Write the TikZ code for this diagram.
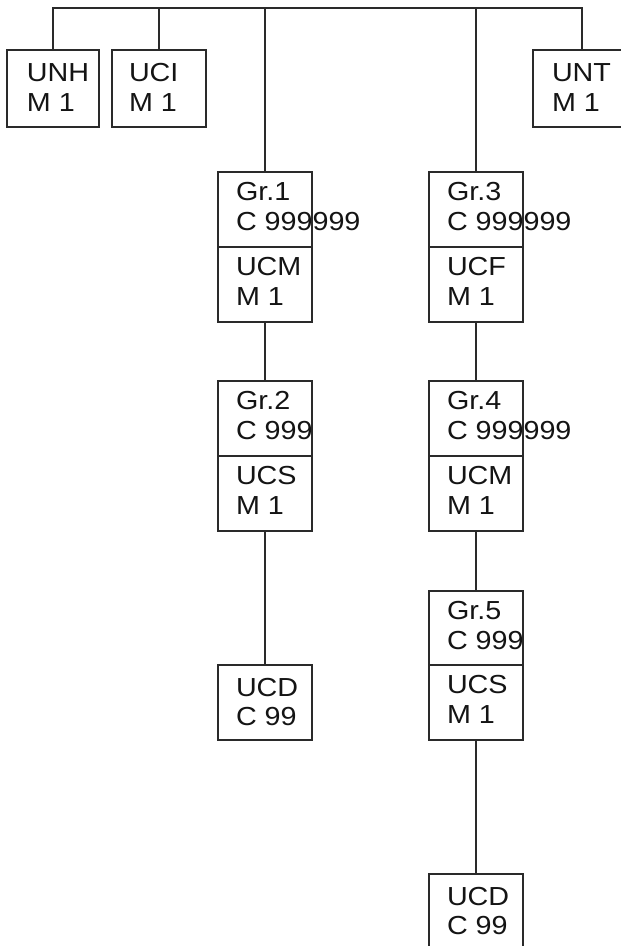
\documentclass[tikz,border=0pt]{standalone}
\usepackage{fontspec}
\setmainfont[FakeStretch=1.1]{Liberation Sans}
\definecolor{linec}{HTML}{2A2A2A}
\definecolor{txtc}{HTML}{141414}
\begin{document}
\begin{tikzpicture}[x=1pt,y=-1pt,
  cell/.style={draw=linec, line width=1.7pt, fill=white, minimum width=94pt, minimum height=75pt, inner sep=0pt, outer sep=0pt, anchor=north west},
  topcell/.style={cell, minimum height=77pt},
  lbl/.style={anchor=base west, inner sep=0pt, outer sep=0pt, text=txtc, font=\fontsize{26.1}{30}\selectfont},
  wire/.style={draw=linec, line width=1.8pt}]
\useasboundingbox (0,0) rectangle (621,946);
\fill[white] (0,0) rectangle (621,946);

% top row boxes
\node[topcell, minimum width=92pt] (unh) at (7,50) {};
\node[topcell] (uci) at (112,50) {};
\node[topcell] (unt) at (533,50) {};
\coordinate (tunt) at (582,8);

% left column
\node[cell] (g1a) at (218,172) {};
\node[cell] (g1b) at (218,247) {};
\node[cell] (g2a) at (218,381) {};
\node[cell] (g2b) at (218,456) {};
\node[cell] (ucd1) at (218,665) {};

% right column
\node[cell] (g3a) at (429,172) {};
\node[cell] (g3b) at (429,247) {};
\node[cell] (g4a) at (429,381) {};
\node[cell] (g4b) at (429,456) {};
\node[cell, minimum height=74pt] (g5a) at (429,591) {};
\node[cell] (g5b) at (429,665) {};
\node[cell] (ucd2) at (429,874) {};

% connectors
\draw[wire] (unh.north) |- (tunt) -- (tunt |- unt.north);
\draw[wire] (uci.north |- tunt) -- (uci.north);
\draw[wire] (g1a.north |- tunt) -- (g1a.north);
\draw[wire] (g3a.north |- tunt) -- (g3a.north);
\draw[wire] (g1b.south) -- (g2a.north);
\draw[wire] (g2b.south) -- (ucd1.north);
\draw[wire] (g3b.south) -- (g4a.north);
\draw[wire] (g4b.south) -- (g5a.north);
\draw[wire] (g5b.south) -- (ucd2.north);

% labels, single boxes
\node[lbl] (unh1) at ([shift={(20,31.5)}]unh.north west) {UNH};
\node[lbl] (unh2) at ([shift={(20,61)}]unh.north west) {M 1};
\node[lbl] (uci1) at ([shift={(17,31.5)}]uci.north west) {UCI};
\node[lbl] (uci2) at ([shift={(17,61)}]uci.north west) {M 1};
\node[lbl] (unt1) at ([shift={(19,31.5)}]unt.north west) {UNT};
\node[lbl] (unt2) at ([shift={(19,61)}]unt.north west) {M 1};
\node[lbl] (ucd1a) at ([shift={(18,31)}]ucd1.north west) {UCD};
\node[lbl] (ucd1b) at ([shift={(18,60.5)}]ucd1.north west) {C 99};
\node[lbl] (ucd2a) at ([shift={(18,31)}]ucd2.north west) {UCD};
\node[lbl] (ucd2b) at ([shift={(18,60.5)}]ucd2.north west) {C 99};

% labels, group cells
\node[lbl] (g1a1) at ([shift={(18,28.7)}]g1a.north west) {Gr.1};
\node[lbl] (g1a2) at ([shift={(18,58.5)}]g1a.north west) {C 999999};
\node[lbl] (g1b1) at ([shift={(18,28.7)}]g1b.north west) {UCM};
\node[lbl] (g1b2) at ([shift={(18,58.5)}]g1b.north west) {M 1};
\node[lbl] (g2a1) at ([shift={(18,28.7)}]g2a.north west) {Gr.2};
\node[lbl] (g2a2) at ([shift={(18,58.5)}]g2a.north west) {C 999};
\node[lbl] (g2b1) at ([shift={(18,28.7)}]g2b.north west) {UCS};
\node[lbl] (g2b2) at ([shift={(18,58.5)}]g2b.north west) {M 1};
\node[lbl] (g3a1) at ([shift={(18,28.7)}]g3a.north west) {Gr.3};
\node[lbl] (g3a2) at ([shift={(18,58.5)}]g3a.north west) {C 999999};
\node[lbl] (g3b1) at ([shift={(18,28.7)}]g3b.north west) {UCF};
\node[lbl] (g3b2) at ([shift={(18,58.5)}]g3b.north west) {M 1};
\node[lbl] (g4a1) at ([shift={(18,28.7)}]g4a.north west) {Gr.4};
\node[lbl] (g4a2) at ([shift={(18,58.5)}]g4a.north west) {C 999999};
\node[lbl] (g4b1) at ([shift={(18,28.7)}]g4b.north west) {UCM};
\node[lbl] (g4b2) at ([shift={(18,58.5)}]g4b.north west) {M 1};
\node[lbl] (g5a1) at ([shift={(18,28.7)}]g5a.north west) {Gr.5};
\node[lbl] (g5a2) at ([shift={(18,58.5)}]g5a.north west) {C 999};
\node[lbl] (g5b1) at ([shift={(18,28.7)}]g5b.north west) {UCS};
\node[lbl] (g5b2) at ([shift={(18,58.5)}]g5b.north west) {M 1};
\end{tikzpicture}
\end{document}
